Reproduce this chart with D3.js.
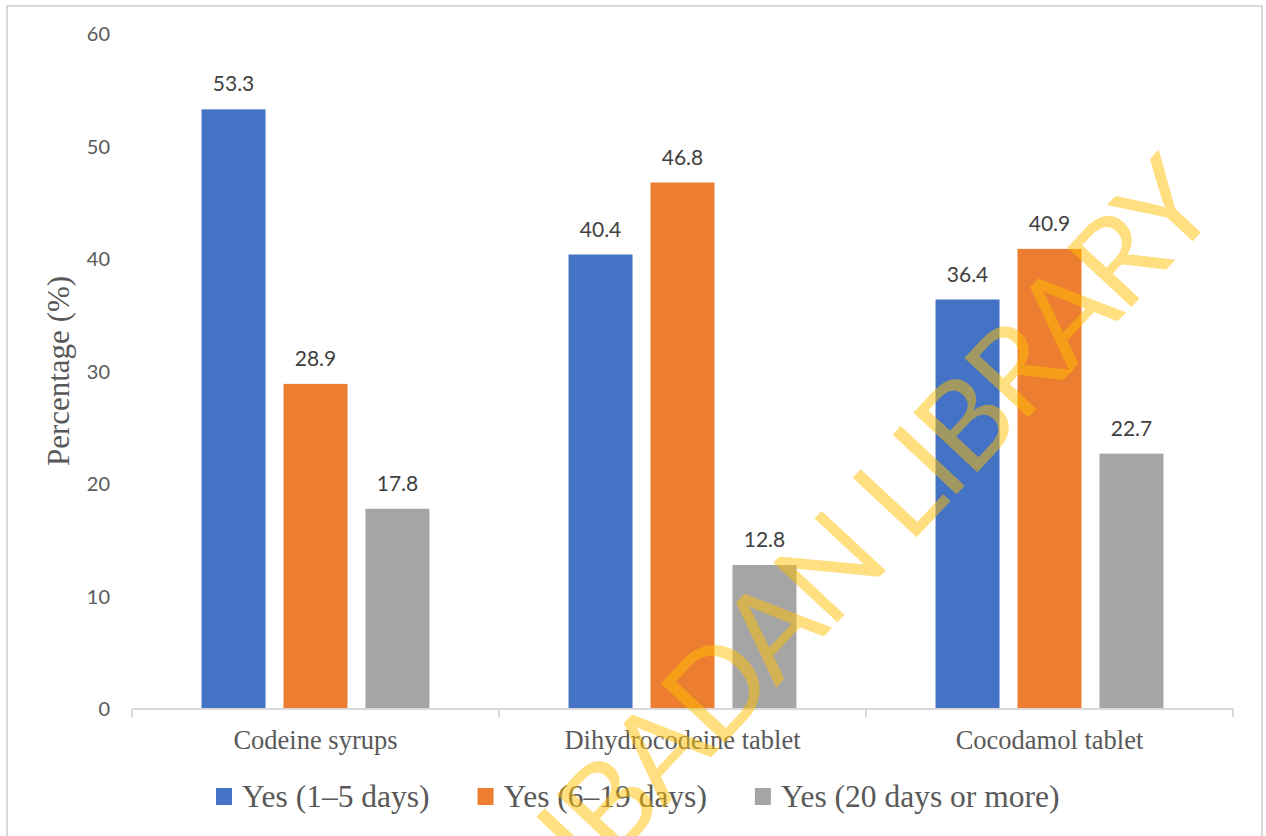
<!DOCTYPE html>
<html>
<head>
<meta charset="utf-8">
<script src="https://cdn.jsdelivr.net/npm/d3@7"></script>
<style>
  html, body { margin: 0; padding: 0; background: #ffffff; }
  svg { display: block; }
</style>
</head>
<body>
<svg id="chart" width="1266" height="836"></svg>
<script>
// Duration of use by product type
const categories = ["Codeine syrups", "Dihydrocodeine tablet", "Cocodamol tablet"];
const seriesNames = ["Yes (1–5 days)", "Yes (6–19 days)", "Yes (20 days or more)"];
const shortUse = [53.3, 40.4, 36.4];
const mediumUse = [28.9, 46.8, 40.9];
const longUse = [17.8, 12.8, 22.7];
const yTicks = [0, 10, 20, 30, 40, 50, 60];
const seriesColors = ["#4472C4", "#ED7D31", "#A5A5A5"];
const yTitle = "Percentage (%)";
const watermarkText = "UNIVERSITY OF IBADAN LIBRARY";

const seriesValues = [shortUse, mediumUse, longUse];
const rows = categories.map((c, i) => ({
  category: c,
  values: seriesNames.map((s, j) => ({ series: s, value: seriesValues[j][i], color: seriesColors[j] }))
}));

const svg = d3.select("#chart");
const plot = { left: 132, right: 1233, top: 34, bottom: 709 };

// Outer chart frame
svg.append("rect")
  .attr("x", 7).attr("y", 6)
  .attr("width", 1255).attr("height", 860)
  .attr("fill", "#ffffff")
  .attr("stroke", "#d9d9d9").attr("stroke-width", 2);

const x0 = d3.scaleBand().domain(categories).range([plot.left, plot.right]).padding(0);
const x1 = d3.scaleBand().domain(seriesNames).range([0, x0.bandwidth()])
  .paddingInner(0.2195).paddingOuter(0.848);
const y = d3.scaleLinear().domain([0, 60]).range([plot.bottom, plot.top]);

// Y tick labels (no axis line, no gridlines)
svg.append("g").selectAll("text")
  .data(yTicks).join("text")
  .attr("x", plot.left - 22)
  .attr("y", d => y(d))
  .attr("dy", "0.36em")
  .attr("text-anchor", "end")
  .attr("font-family", "Lato, 'Open Sans', sans-serif")
  .attr("font-size", 20)
  .attr("fill", "#595959")
  .text(d => d);

// Y axis title
svg.append("text")
  .attr("transform", `translate(69, 371) rotate(-90)`)
  .attr("text-anchor", "middle")
  .attr("font-family", "'Liberation Serif', 'Times New Roman', serif")
  .attr("font-size", 31)
  .attr("fill", "#595959")
  .text(yTitle);

// Bars
const groups = svg.append("g").selectAll("g")
  .data(rows).join("g")
  .attr("transform", d => `translate(${x0(d.category)},0)`);

groups.selectAll("rect")
  .data(d => d.values).join("rect")
  .attr("x", d => x1(d.series))
  .attr("y", d => y(d.value))
  .attr("width", x1.bandwidth())
  .attr("height", d => y(0) - y(d.value))
  .attr("fill", d => d.color);

// Value labels
groups.selectAll("text")
  .data(d => d.values).join("text")
  .attr("x", d => x1(d.series) + x1.bandwidth() / 2)
  .attr("y", d => y(d.value) - 18)
  .attr("text-anchor", "middle")
  .attr("font-family", "Lato, 'Open Sans', sans-serif")
  .attr("font-size", 21)
  .attr("fill", "#404040")
  .text(d => d.value.toFixed(1));

// X axis with category tick marks
const xAxis = d3.axisBottom(x0).tickSize(0).tickPadding(0);
const xg = svg.append("g").attr("transform", `translate(0,${plot.bottom})`).call(xAxis);
xg.select(".domain").remove();
xg.selectAll(".tick text").remove();
xg.append("line")
  .attr("x1", plot.left).attr("x2", plot.right)
  .attr("y1", 0).attr("y2", 0)
  .attr("stroke", "#d9d9d9").attr("stroke-width", 2);
const boundaries = categories.map(c => x0(c)).concat([x0(categories[categories.length - 1]) + x0.bandwidth()]);
xg.selectAll("line.bound")
  .data(boundaries).join("line")
  .attr("class", "bound")
  .attr("x1", d => d).attr("x2", d => d)
  .attr("y1", 0).attr("y2", 8)
  .attr("stroke", "#d9d9d9").attr("stroke-width", 2);
xg.selectAll("text.cat")
  .data(categories).join("text")
  .attr("class", "cat")
  .attr("x", d => x0(d) + x0.bandwidth() / 2)
  .attr("y", 40)
  .attr("text-anchor", "middle")
  .attr("font-family", "'Liberation Serif', 'Times New Roman', serif")
  .attr("font-size", 26.5)
  .attr("fill", "#595959")
  .text(d => d);

// Legend
const legend = svg.append("g").attr("transform", "translate(216, 807)");
let lx = 0;
seriesNames.forEach((s, i) => {
  legend.append("rect")
    .attr("x", lx).attr("y", -19)
    .attr("width", 16).attr("height", 17)
    .attr("fill", seriesColors[i]);
  const t = legend.append("text")
    .attr("x", lx + 26).attr("y", 0)
    .attr("font-family", "'Liberation Serif', 'Times New Roman', serif")
    .attr("font-size", 31.5)
    .attr("fill", "#595959")
    .text(s);
  lx += 26 + t.node().getComputedTextLength() + 48;
});

// Diagonal library watermark over the plot
svg.append("text")
  .attr("transform", "translate(1220,212) rotate(-47)")
  .attr("text-anchor", "end")
  .attr("font-family", "Lato, 'Open Sans', sans-serif")
  .attr("font-size", 122)
  .attr("letter-spacing", -4)
  .attr("fill", "#FFC000")
  .attr("fill-opacity", 0.5)
  .text(watermarkText);
</script>
</body>
</html>
